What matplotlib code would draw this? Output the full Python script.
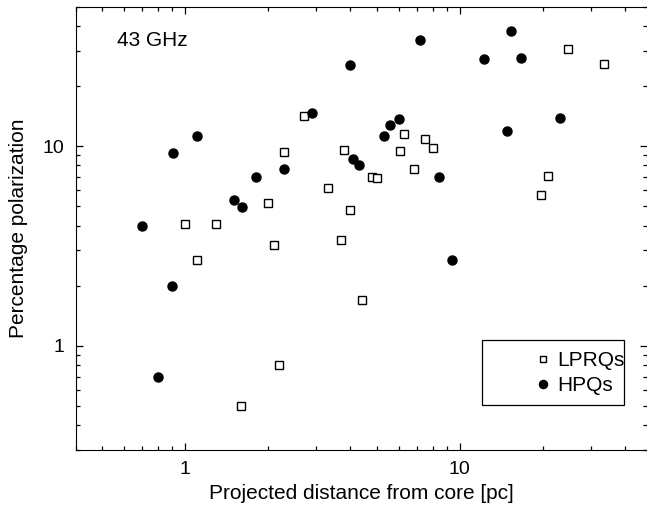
import matplotlib
matplotlib.use("Agg")
import matplotlib.pyplot as plt
from matplotlib.ticker import FuncFormatter, NullFormatter, LogLocator
from matplotlib.patches import Rectangle

plt.rcParams['font.family'] = ['Liberation Sans', 'DejaVu Sans']

# LPRQs (open squares)
lprq_dist = [1.0, 1.30, 1.106, 1.60, 2.0, 2.10, 2.20, 2.30, 2.70, 3.30, 3.80, 3.71,
             4.0, 4.40, 4.79, 4.99, 6.08, 6.29, 6.79, 7.49, 7.99, 19.7, 20.9, 24.7, 33.4]
lprq_pol = [4.07, 4.07, 2.69, 0.50, 5.16, 3.2, 0.80, 9.33, 14.1, 6.19, 9.55, 3.39,
            4.79, 1.69, 7.0, 6.89, 9.44, 11.5, 7.64, 10.9, 9.84, 5.69, 7.05, 30.8, 25.9]

# HPQs (filled circles)
hpq_dist = [0.70, 0.80, 0.899, 0.902, 1.106, 1.505, 1.605, 1.806, 2.30, 2.90, 4.0,
            4.09, 4.29, 5.29, 5.59, 5.99, 7.19, 8.38, 9.37, 12.27, 14.84, 15.3, 16.74, 23.2]
hpq_pol = [4.0, 0.70, 1.99, 9.26, 11.2, 5.39, 4.97, 6.97, 7.67, 14.67, 25.6,
           8.64, 8.06, 11.26, 12.78, 13.7, 34.0, 6.97, 2.69, 27.4, 11.97, 37.7, 27.7, 13.85]

fig = plt.figure(figsize=(6.47, 5.12), dpi=100)
ax = fig.add_axes([0.117, 0.121, 0.883, 0.866])

ax.plot(lprq_dist, lprq_pol, 's', ms=5.5, mfc='white', mec='black', mew=1.0,
        ls='none', label='LPRQs')
ax.plot(hpq_dist, hpq_pol, 'o', ms=6.5, color='black', ls='none', label='HPQs')

ax.set_xscale('log')
ax.set_yscale('log')
ax.set_xlim(0.4, 48)
ax.set_ylim(0.3, 50)

fmt = FuncFormatter(lambda v, p: '%g' % v)
for axis in (ax.xaxis, ax.yaxis):
    axis.set_major_locator(LogLocator(base=10))
    axis.set_minor_locator(LogLocator(base=10, subs=range(2, 10)))
    axis.set_major_formatter(fmt)
    axis.set_minor_formatter(NullFormatter())

ax.tick_params(which='both', direction='in', top=True, right=True, width=0.9)
ax.tick_params(which='major', length=5, labelsize=14, pad=8)
ax.tick_params(which='minor', length=2.8)
ax.spines['right'].set_visible(False)

ax.set_xlabel('Projected distance from core [pc]', fontsize=15, labelpad=4)
ax.set_ylabel('Percentage polarization', fontsize=15, labelpad=11)

ax.text(0.072, 0.912, '43 GHz', transform=ax.transAxes, fontsize=15)

leg = ax.legend(loc='upper right', bbox_to_anchor=(0.979, 0.247), frameon=False,
                fontsize=15, handlelength=0.6, handletextpad=0.4, borderpad=0,
                labelspacing=0.3, markerscale=0.9)
ax.add_patch(Rectangle((0.711, 0.102), 0.249, 0.147, transform=ax.transAxes,
                       fill=False, ec='black', lw=0.9))

fig.savefig('out.png', dpi=100)
